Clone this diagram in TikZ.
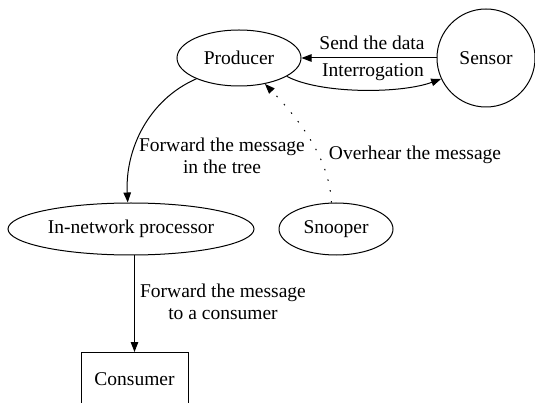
\documentclass[tikz,border=0pt]{standalone}
\usepackage{fontspec}
\setmainfont{LiberationSerif}[Extension=.ttf,UprightFont=*-Regular,BoldFont=*-Bold,ItalicFont=*-Italic]
\usetikzlibrary{shapes.geometric,arrows.meta}
\begin{document}
\begin{tikzpicture}[x=1pt,y=-1pt,
  every node/.style={font=\fontsize{19.5}{22}\selectfont},
  ell/.style={draw,ellipse,line width=1pt,inner sep=0pt},
  lbl/.style={align=center,inner sep=0pt},
  edge/.style={line width=1pt,-{Triangle[length=10pt,width=7.5pt]}}]
\useasboundingbox (0,0) rectangle (535,403);
\node[ell,minimum width=124pt,minimum height=56pt] (prod) at (239,58) {Producer};
\node[draw,circle,line width=1pt,minimum size=98pt,inner sep=0pt] (sens) at (486,58) {Sensor};
\node[ell,minimum width=246pt,minimum height=52pt] (inp) at (131,229) {In-network processor};
\node[ell,minimum width=114pt,minimum height=52pt] (snoop) at (336,229) {Snooper};
\node[draw,line width=1pt,minimum width=107pt,minimum height=52pt,anchor=north] (cons) at (134.5,352) {};
\node (constext) at (134.5,379) {Consumer};
\draw[edge] (sens.west) -- (prod.east);
\node[lbl] (l1) at (372,43) {Send the data};
\draw[edge] (prod.-21) .. controls (320,94) and (400,94) .. (sens.205);
\node[lbl] (l2) at (373,72) {Interrogation};
\draw[edge] (prod.206) .. controls (148,100) and (125,150) .. (inp.97);
\node[lbl] (l3) at (222,156) {Forward the message\\in the tree};
\draw[edge,dash pattern=on 1.5pt off 9.5pt] (snoop.100) .. controls (330,160) and (300,120) .. (prod.-45);
\node[lbl] (l4) at (415,155) {Overhear the message};
\draw[edge] (cons.north |- inp.south) -- (cons.north);
\node[lbl] (l5) at (223,302) {Forward the message\\to a consumer};
\end{tikzpicture}
\end{document}
